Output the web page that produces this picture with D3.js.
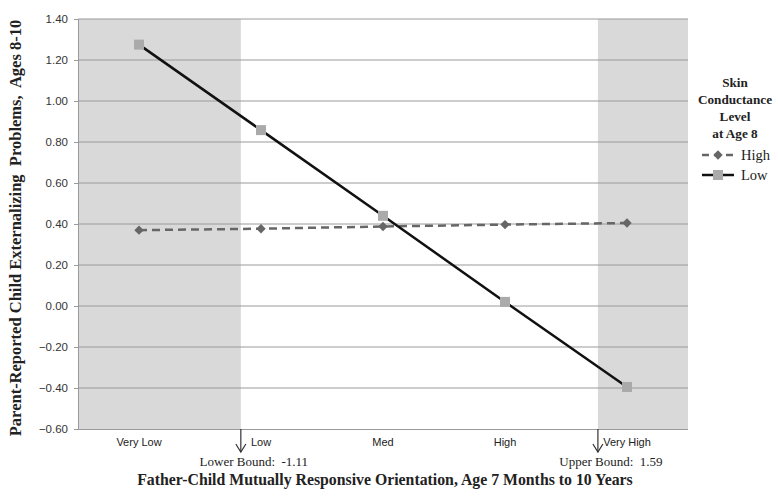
<!DOCTYPE html>
<meta charset="utf-8">
<head>
<style>
  body { margin: 0; background: #fff; }
</style>
</head>
<script src="https://d3js.org/d3.v7.min.js"></script>
<body>
<div id="chart"></div>
</body>
<script>

    // categories on the x axis
    var categories = ["Very Low", "Low", "Med", "High", "Very High"];
    // MRO value at the first and last category (read from where the bounds sit)
    var categoryMro = [-1.88, 1.81];
    // regions of significance
    var lowerBound = -1.11, upperBound = 1.59;

    // series values
    var highValues = [0.37, 0.377, 0.388, 0.397, 0.405];
    var lowValues = [1.275, 0.858, 0.44, 0.02, -0.395];

    var yTicks = [-0.6, -0.4, -0.2, 0, 0.2, 0.4, 0.6, 0.8, 1.0, 1.2, 1.4];

    var W = 778, H = 496;
    var margin = {top: 19, right: 90, bottom: 67, left: 78};
    var width = W - margin.left - margin.right,
        height = H - margin.top - margin.bottom;

    var svg = d3.select("#chart").append("svg")
        .attr("width", W).attr("height", H);

    var g = svg.append("g")
        .attr("transform", "translate(" + margin.left + "," + margin.top + ")");

    var x = d3.scaleBand().domain(categories).range([0, width]).padding(0);
    var cx = function(c) { return x(c) + x.bandwidth() / 2; };

    // MRO value -> pixel, anchored at first/last category centres
    var xv = d3.scaleLinear()
        .domain(categoryMro)
        .range([cx(categories[0]), cx(categories[categories.length - 1])]);

    var y = d3.scaleLinear().domain([-0.6, 1.4]).range([height, 0]);

    // shaded regions (outside the region of significance bounds)
    g.append("rect")
        .attr("x", 0).attr("y", 0)
        .attr("width", xv(lowerBound)).attr("height", height)
        .style("fill", "#d9d9d9");
    g.append("rect")
        .attr("x", xv(upperBound)).attr("y", 0)
        .attr("width", width - xv(upperBound)).attr("height", height)
        .style("fill", "#d9d9d9");

    // gridlines
    g.append("g").selectAll("line")
        .data(yTicks.filter(function(d) { return d > -0.6; }))
        .enter().append("line")
        .attr("x1", 0).attr("x2", width)
        .attr("y1", function(d) { return y(d); })
        .attr("y2", function(d) { return y(d); })
        .style("stroke", "#9a9a9a").style("stroke-width", 1);

    // y axis
    var yAxis = g.append("g")
        .call(d3.axisLeft(y).tickValues(yTicks).tickFormat(d3.format(".2f")).tickSize(4).tickSizeOuter(0));
    yAxis.select(".domain").style("stroke", "#9a9a9a");
    yAxis.selectAll(".tick line").style("stroke", "#9a9a9a");
    yAxis.selectAll("text")
        .attr("x", -10)
        .style("font-family", "Liberation Sans, Arial, sans-serif")
        .style("font-size", "11.5px").style("fill", "#333");

    // x axis (line only, labels under band centres)
    var xAxis = g.append("g")
        .attr("transform", "translate(0," + height + ")")
        .call(d3.axisBottom(x).tickSize(0).tickSizeOuter(0));
    xAxis.select(".domain").attr("d", "M-3,0.5H" + width).style("stroke", "#9a9a9a");
    xAxis.selectAll("text")
        .attr("dy", "1.3em")
        .style("font-family", "Liberation Sans, Arial, sans-serif")
        .style("font-size", "11px").style("fill", "#222");

    // bound arrows and labels
    [[lowerBound, "Lower Bound:  -1.11"], [upperBound, "Upper Bound:  1.59"]].forEach(function(b) {
        var bx = xv(b[0]);
        g.append("line")
            .attr("x1", bx).attr("x2", bx)
            .attr("y1", height).attr("y2", height + 23)
            .style("stroke", "#333").style("stroke-width", 1.2);
        g.append("path")
            .attr("d", "M" + (bx - 5) + "," + (height + 15) + "L" + bx + "," + (height + 23) + "L" + (bx + 5) + "," + (height + 15))
            .style("fill", "none").style("stroke", "#333").style("stroke-width", 1.2);
        g.append("text")
            .attr("x", bx + 13).attr("y", height + 37)
            .style("text-anchor", "middle")
            .style("font-family", "Liberation Serif, Times New Roman, serif")
            .style("font-size", "13px").style("fill", "#222")
            .style("white-space", "pre")
            .text(b[1]);
    });

    // lines
    var line = d3.line()
        .x(function(d, i) { return cx(categories[i]); })
        .y(function(d) { return y(d); });

    g.append("path").datum(highValues)
        .attr("d", line)
        .style("fill", "none").style("stroke", "#666")
        .style("stroke-width", 2.5).style("stroke-dasharray", "8,5");

    g.append("path").datum(lowValues)
        .attr("d", line)
        .style("fill", "none").style("stroke", "#111")
        .style("stroke-width", 2.5);

    // markers: diamond = square turned 45 degrees
    var diamond = d3.symbol().type(d3.symbolSquare).size(44);
    g.append("g").selectAll("path")
        .data(highValues).enter().append("path")
        .attr("d", diamond)
        .attr("transform", function(d, i) { return "translate(" + cx(categories[i]) + "," + y(d) + ") rotate(45)"; })
        .style("fill", "#666");

    g.append("g").selectAll("rect")
        .data(lowValues).enter().append("rect")
        .attr("x", function(d, i) { return cx(categories[i]) - 5; })
        .attr("y", function(d) { return y(d) - 5; })
        .attr("width", 10).attr("height", 10)
        .style("fill", "#aaa");

    // axis titles
    svg.append("text")
        .attr("transform", "translate(21,228) rotate(-90)")
        .style("text-anchor", "middle")
        .style("font-family", "Liberation Serif, Times New Roman, serif")
        .style("font-weight", "bold").style("font-size", "16.5px").style("fill", "#222")
        .style("white-space", "pre")
        .text("Parent-Reported Child Externalizing  Problems,  Ages 8-10");

    svg.append("text")
        .attr("x", margin.left + width / 2 + 2).attr("y", 485)
        .style("text-anchor", "middle")
        .style("font-family", "Liberation Serif, Times New Roman, serif")
        .style("font-weight", "bold").style("font-size", "15.8px").style("fill", "#222")
        .text("Father-Child Mutually Responsive Orientation, Age 7 Months to 10 Years");

    // legend
    var legend = svg.append("g");
    var legendTitle = ["Skin", "Conductance", "Level", "at Age 8"];
    legend.selectAll("text.title")
        .data(legendTitle).enter().append("text")
        .attr("class", "title")
        .attr("x", 735).attr("y", function(d, i) { return 87 + i * 17; })
        .style("text-anchor", "middle")
        .style("font-family", "Liberation Serif, Times New Roman, serif")
        .style("font-weight", "bold").style("font-size", "13.2px").style("fill", "#222")
        .text(function(d) { return d; });

    var ly1 = 155, ly2 = 175;
    legend.append("line").attr("x1", 702).attr("x2", 734).attr("y1", ly1).attr("y2", ly1)
        .style("stroke", "#666").style("stroke-width", 2.5).style("stroke-dasharray", "7,5");
    legend.append("path").attr("d", diamond)
        .attr("transform", "translate(718," + ly1 + ") rotate(45)").style("fill", "#666");
    legend.append("text").attr("x", 741).attr("y", ly1 + 5)
        .style("font-family", "Liberation Serif, Times New Roman, serif")
        .style("font-size", "14.5px").style("fill", "#222").text("High");

    legend.append("line").attr("x1", 702).attr("x2", 734).attr("y1", ly2).attr("y2", ly2)
        .style("stroke", "#111").style("stroke-width", 2.5);
    legend.append("rect").attr("x", 713).attr("y", ly2 - 5).attr("width", 10).attr("height", 10)
        .style("fill", "#aaa");
    legend.append("text").attr("x", 741).attr("y", ly2 + 5)
        .style("font-family", "Liberation Serif, Times New Roman, serif")
        .style("font-size", "14.5px").style("fill", "#222").text("Low");

</script>
